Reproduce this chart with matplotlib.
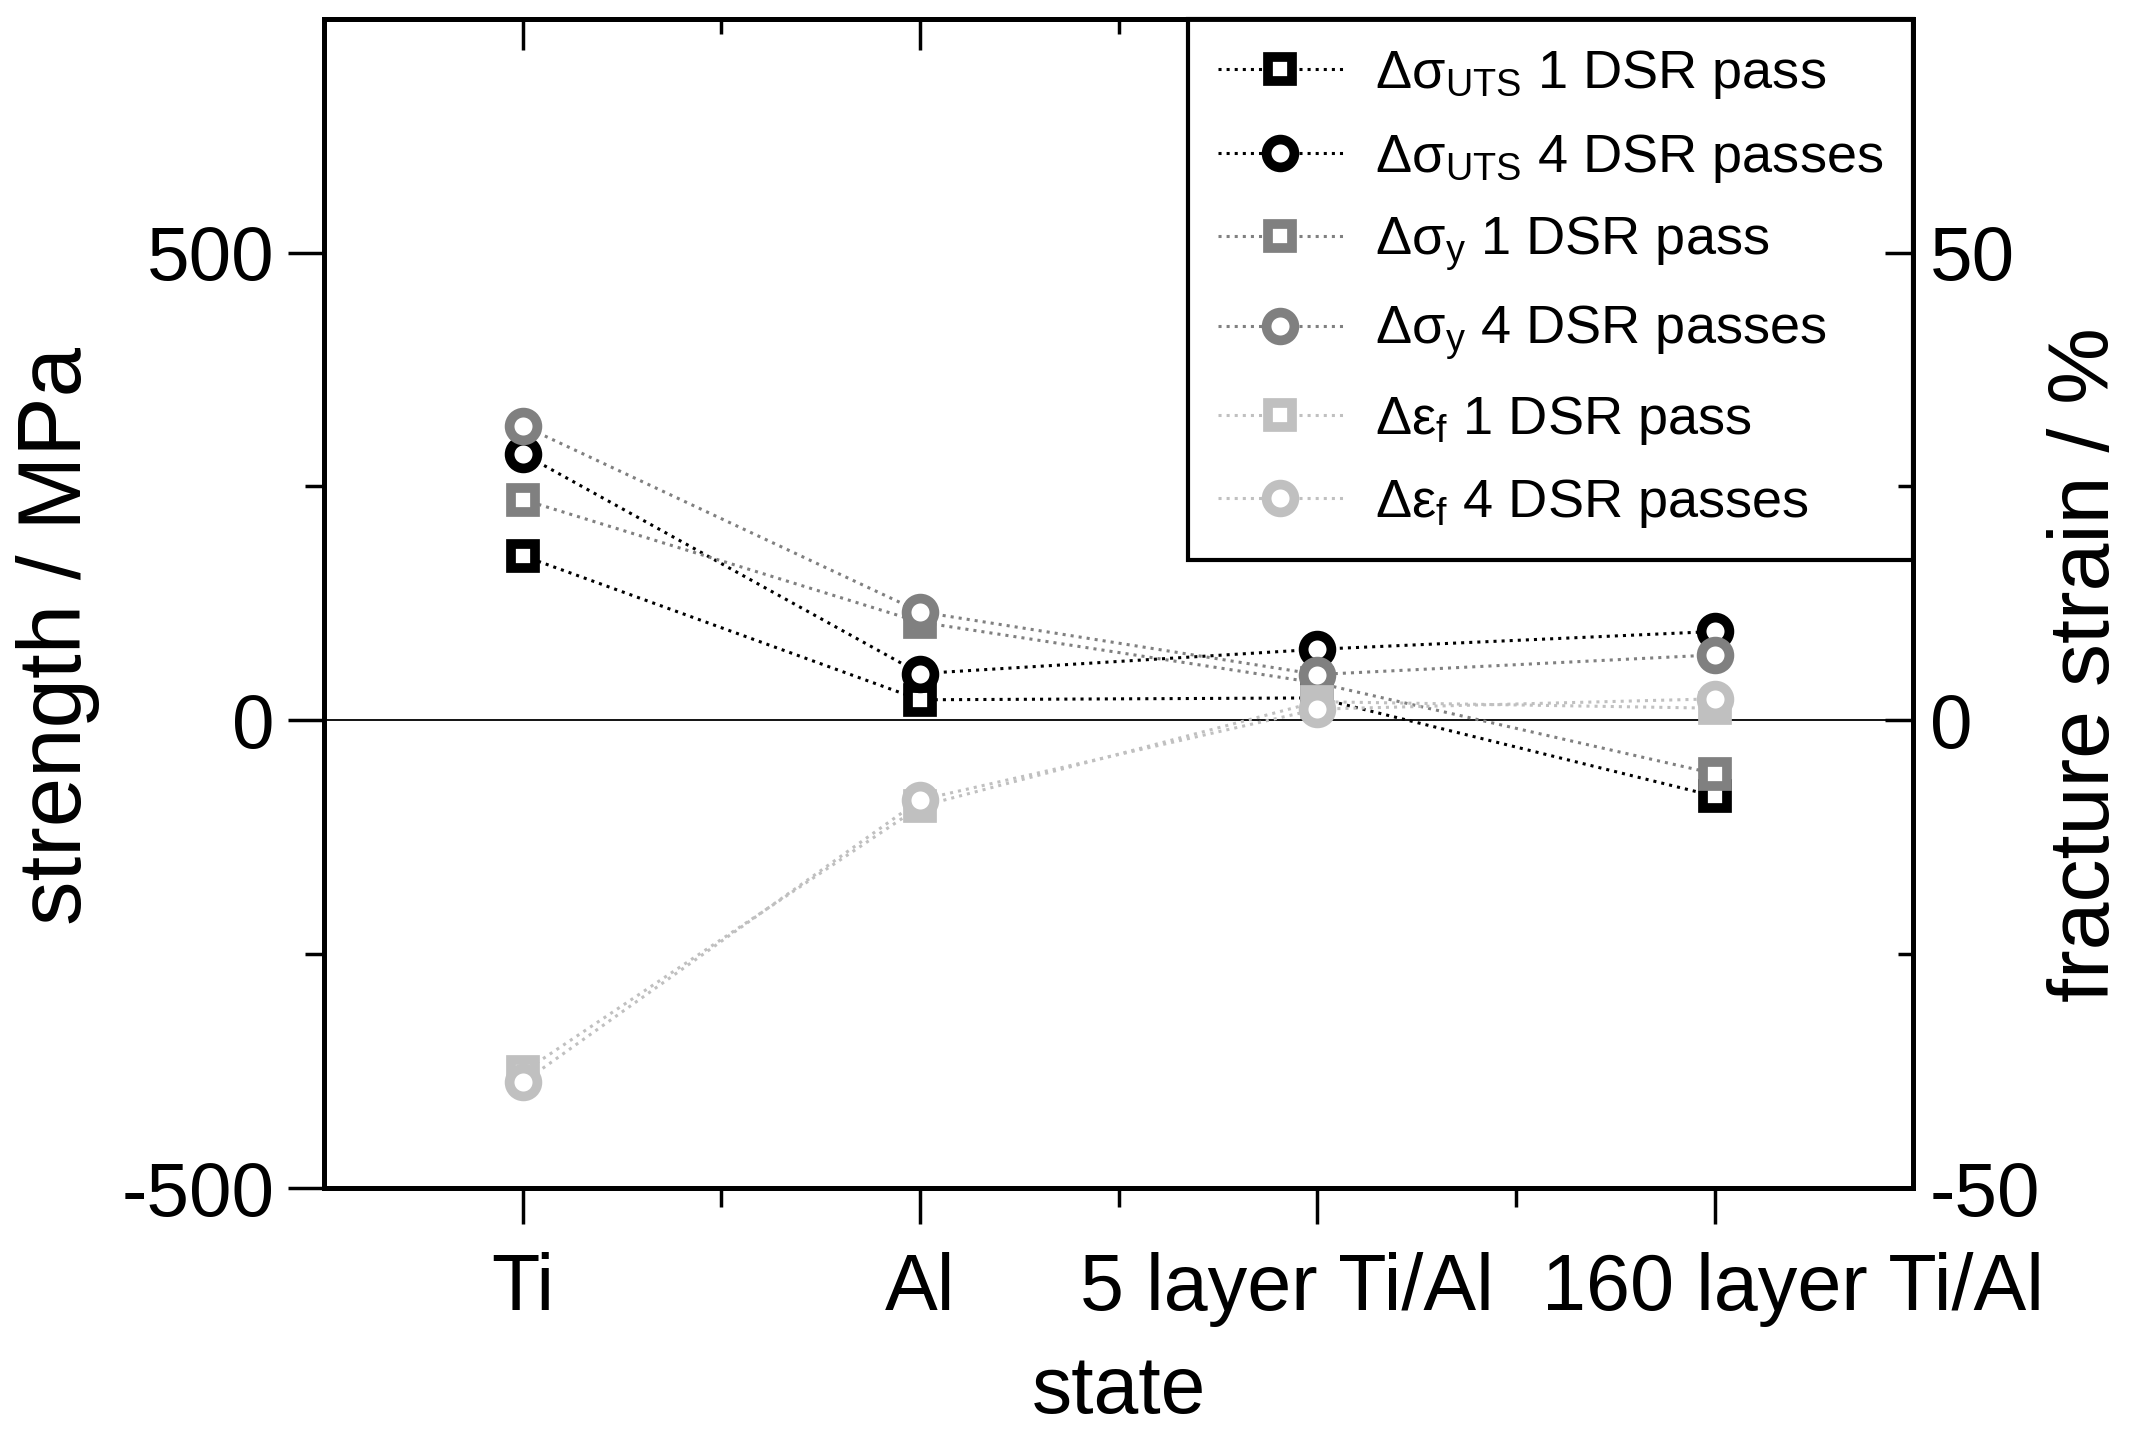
import matplotlib
matplotlib.use('Agg')
import matplotlib.pyplot as plt
import matplotlib.transforms as mtransforms
from matplotlib.ticker import FixedLocator

plt.rcParams['font.family'] = ['Liberation Sans', 'DejaVu Sans']
plt.rcParams['mathtext.fontset'] = 'custom'
plt.rcParams['mathtext.rm'] = 'Liberation Sans'
plt.rcParams['axes.unicode_minus'] = False

states = ['Ti', 'Al', '5 layer Ti/Al', '160 layer Ti/Al']

# strength changes in MPa
uts_1 = [176, 22, 24, -81]
uts_4 = [285, 50, 76, 95]
ys_1 = [236, 105, 40, -57]
ys_4 = [315, 116, 49, 70]
# fracture strain changes in %
ef_1 = [-37.6, -9.2, 2.0, 1.3]
ef_4 = [-38.7, -8.5, 1.2, 2.3]

black = '#000000'
gray = '#808080'
light = '#c0c0c0'

fig = plt.figure(figsize=(21.33, 14.35), dpi=100)
ax = fig.add_axes([0.152, 0.172, 0.745, 0.815])
ax2 = ax.twinx()

x = list(range(1, len(states) + 1))
mk = dict(mfc='white', mew=7, ls=':', lw=2.2)

l1, = ax.plot(x, uts_1, marker='s', ms=17, color=black, mec=black, **mk, zorder=5)
l2, = ax.plot(x, uts_4, marker='o', ms=20, color=black, mec=black, **mk, zorder=5)
l3, = ax.plot(x, ys_1, marker='s', ms=17, color=gray, mec=gray, **mk, zorder=6)
l4, = ax.plot(x, ys_4, marker='o', ms=20, color=gray, mec=gray, **mk, zorder=6)
l5, = ax2.plot(x, ef_1, marker='s', ms=17, color=light, mec=light, **mk)
l6, = ax2.plot(x, ef_4, marker='o', ms=20, color=light, mec=light, **mk)

ax.axhline(0, color='black', lw=1.3, zorder=1)

ax.set_xlim(0.5, 4.5)
ax.set_ylim(-500, 750)
ax2.set_ylim(-50, 75)

ax.set_xticks(x)
ax.set_xticklabels(states)
ax.xaxis.set_minor_locator(FixedLocator([1.5, 2.5, 3.5]))
ax.yaxis.set_major_locator(FixedLocator([-500, 0, 500]))
ax.yaxis.set_minor_locator(FixedLocator([-250, 250]))
ax2.yaxis.set_major_locator(FixedLocator([-50, 0, 50]))
ax2.yaxis.set_minor_locator(FixedLocator([-25, 25]))

ax.tick_params(axis='x', which='both', direction='out', top=False, labelsize=57, pad=20)
ax.tick_params(axis='x', which='major', length=26, width=2.5)
ax.tick_params(axis='x', which='minor', length=14, width=2.5)
ax.tick_params(axis='y', which='major', direction='out', length=26, width=2.5, labelsize=55, pad=10)
ax.tick_params(axis='y', which='minor', direction='out', length=14, width=2.5)
ax2.tick_params(axis='y', which='major', direction='in', length=20, width=2.5, labelsize=55, pad=12)
ax2.tick_params(axis='y', which='minor', direction='in', length=11, width=2.5)

# top axis with inward ticks, no labels
sec = ax.secondary_xaxis('top')
sec.set_xticks(x)
sec.xaxis.set_minor_locator(FixedLocator([1.5, 2.5, 3.5]))
sec.tick_params(which='both', direction='in', labeltop=False, width=2.5)
sec.tick_params(which='major', length=22)
sec.tick_params(which='minor', length=11)
sec.spines['top'].set_linewidth(3.5)

for s in ax.spines.values():
    s.set_linewidth(3.5)
for s in ax2.spines.values():
    s.set_linewidth(3.5)

# nudge the two long labels apart like in the original
shifts = [0, 0, -22, 56]
for lab, dx in zip(ax.get_xticklabels(), shifts):
    lab.set_transform(lab.get_transform() + mtransforms.ScaledTranslation(dx / 72, 0, fig.dpi_scale_trans))

ax.set_xlabel('state', fontsize=58)
ax.set_ylabel('strength / MPa', fontsize=64)
ax2.set_ylabel('fracture strain / %', fontsize=62)
ax.xaxis.set_label_coords(0.5, -0.142)
ax.yaxis.set_label_coords(-0.141, 0.472)
ax2.yaxis.set_label_coords(1.084, 0.448)

labels = [r'Δσ$_{\mathrm{UTS}}$ 1 DSR pass', r'Δσ$_{\mathrm{UTS}}$ 4 DSR passes',
          r'Δσ$_{\mathrm{y}}$ 1 DSR pass', r'Δσ$_{\mathrm{y}}$ 4 DSR passes',
          r'Δε$_{\mathrm{f}}$ 1 DSR pass', r'Δε$_{\mathrm{f}}$ 4 DSR passes']
leg = ax2.legend([l1, l2, l3, l4, l5, l6], labels, loc='upper right', fontsize=39,
                 frameon=True, fancybox=False, edgecolor='black', framealpha=1,
                 borderaxespad=0, handlelength=2.3, labelspacing=0.56, borderpad=0.55,
                 handletextpad=0.6, markerscale=1.0)
leg.get_frame().set_linewidth(3)
leg.set_zorder(1)

fig.savefig('out.png', dpi=100)
